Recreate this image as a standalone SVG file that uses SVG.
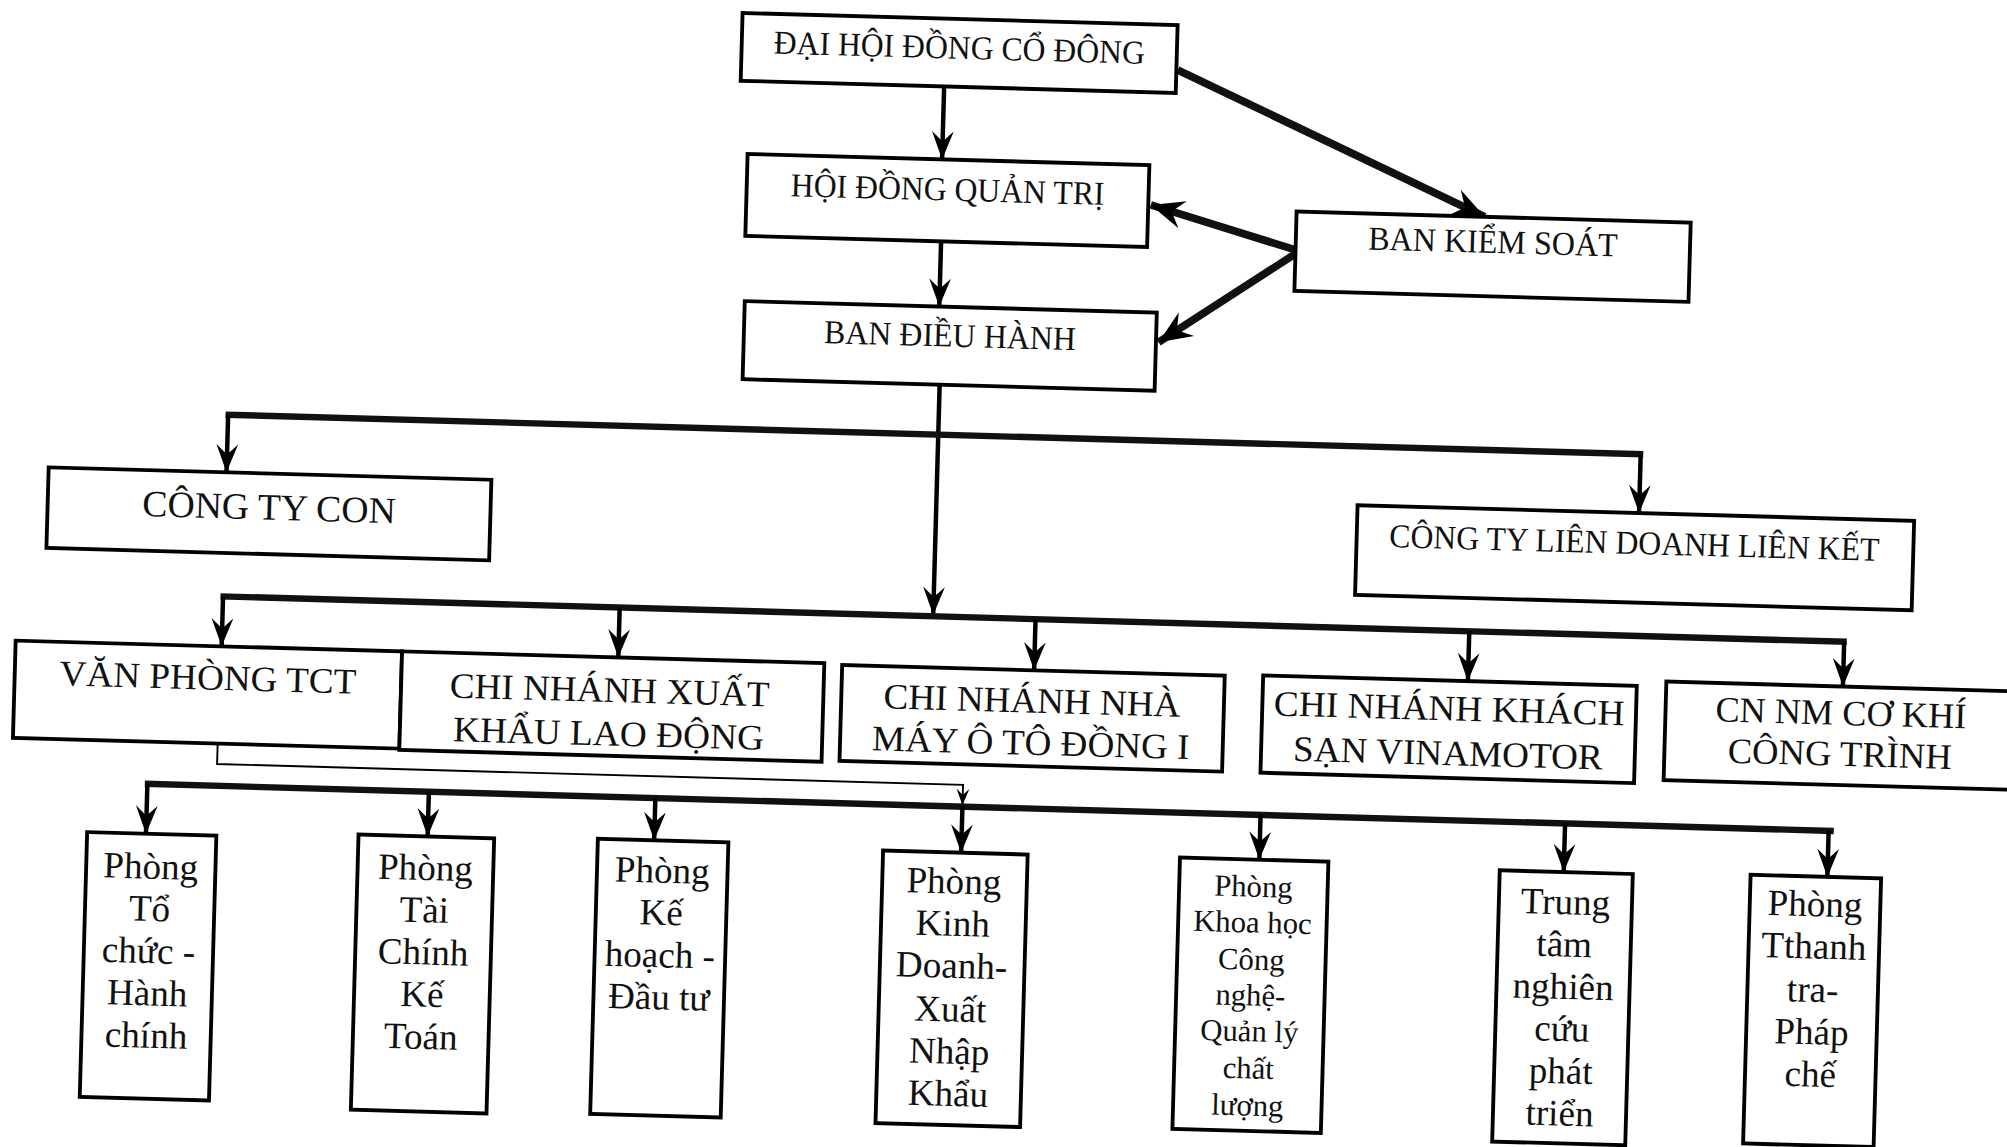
<svg xmlns="http://www.w3.org/2000/svg" width="2007" height="1147" viewBox="0 0 2007 1147">
<defs>
<style>
.box{fill:#fff;stroke:#000;stroke-width:3}
.t{font-family:"Liberation Serif","Times New Roman",serif;fill:#111;text-anchor:middle}
.h{font-size:26px}
.m{font-size:28px}
.b{font-size:29px}
.s{font-size:24px}
.ln{stroke:#000;stroke-width:3.5;fill:none}
.bar{stroke:#111;stroke-width:5;fill:none}
.dg{stroke:#111;stroke-width:6;fill:none}
.thin{stroke:#000;stroke-width:1.5;fill:none}
</style>
<marker id="arr" viewBox="-24 -10 26 20" markerUnits="userSpaceOnUse" markerWidth="26" markerHeight="20" refX="0" refY="0" orient="auto">
<path d="M0,0 L-22,-8.5 L-14,0 L-22,8.5 Z" fill="#000"/>
</marker>
<marker id="arrBig" viewBox="-28 -13 30 26" markerUnits="userSpaceOnUse" markerWidth="30" markerHeight="26" refX="0" refY="0" orient="auto">
<path d="M0,0 L-26,-11 L-17,0 L-26,11 Z" fill="#000"/>
</marker>
<marker id="arrSm" viewBox="-14 -7 16 14" markerUnits="userSpaceOnUse" markerWidth="16" markerHeight="14" refX="0" refY="0" orient="auto">
<path d="M0,0 L-13,-5 L-8,0 L-13,5 Z" fill="#000"/>
</marker>
</defs>
<rect width="2007" height="1147" fill="#fff"/>
<g transform="scale(1.28) rotate(1.6 784 448)">
<g id="connectors">
<line class="ln" x1="727" y1="69" x2="727" y2="126" marker-end="url(#arr)"/>
<line class="ln" x1="728" y1="190" x2="728" y2="241" marker-end="url(#arr)"/>
<line class="dg" x1="909" y1="51" x2="1152" y2="159" marker-end="url(#arrBig)"/>
<line class="dg" x1="1005" y1="189" x2="891" y2="157" marker-end="url(#arrBig)"/>
<line class="dg" x1="1005" y1="192" x2="900" y2="264" marker-end="url(#arrBig)"/>
<line class="ln" x1="730" y1="302" x2="730" y2="482" marker-end="url(#arr)"/>
<line class="bar" x1="173" y1="341" x2="1281" y2="341"/>
<line class="ln" x1="175" y1="341" x2="175" y2="386" marker-end="url(#arr)"/>
<line class="ln" x1="1279" y1="341" x2="1279" y2="387" marker-end="url(#arr)"/>
<line class="bar" x1="173" y1="483" x2="1444" y2="483"/>
<line class="ln" x1="175" y1="483" x2="175" y2="522" marker-end="url(#arr)"/>
<line class="ln" x1="485" y1="483" x2="485" y2="522" marker-end="url(#arr)"/>
<line class="ln" x1="810" y1="483" x2="810" y2="523" marker-end="url(#arr)"/>
<line class="ln" x1="1149" y1="483" x2="1149" y2="522" marker-end="url(#arr)"/>
<line class="ln" x1="1442" y1="483" x2="1442" y2="518" marker-end="url(#arr)"/>
<polyline class="thin" points="174,599 174,614 757,614 757,630" marker-end="url(#arrSm)"/>
<line class="bar" x1="118" y1="631" x2="1438" y2="631"/>
<line class="ln" x1="120" y1="631" x2="120" y2="670" marker-end="url(#arr)"/>
<line class="ln" x1="340" y1="631" x2="340" y2="666" marker-end="url(#arr)"/>
<line class="ln" x1="517" y1="631" x2="517" y2="664" marker-end="url(#arr)"/>
<line class="ln" x1="757" y1="631" x2="757" y2="667" marker-end="url(#arr)"/>
<line class="ln" x1="990" y1="631" x2="990" y2="666" marker-end="url(#arr)"/>
<line class="ln" x1="1228" y1="631" x2="1228" y2="669" marker-end="url(#arr)"/>
<line class="ln" x1="1434" y1="631" x2="1434" y2="667" marker-end="url(#arr)"/>
</g>
<g id="dai-hoi-dong-co-dong">
<rect class="box" x="568" y="16" width="340" height="53"/>
<text class="t h" x="738" y="47" textLength="290" lengthAdjust="spacingAndGlyphs">ĐẠI HỘI ĐỒNG CỔ ĐÔNG</text>
</g>
<g id="hoi-dong-quan-tri">
<rect class="box" x="575" y="126" width="314" height="64"/>
<text class="t h" x="732" y="158" textLength="245" lengthAdjust="spacingAndGlyphs">HỘI ĐỒNG QUẢN TRỊ</text>
</g>
<g id="ban-dieu-hanh">
<rect class="box" x="576" y="241" width="322" height="61"/>
<text class="t h" x="737" y="272" textLength="197" lengthAdjust="spacingAndGlyphs">BAN ĐIỀU HÀNH</text>
</g>
<g id="ban-kiem-soat">
<rect class="box" x="1005" y="159" width="308" height="62"/>
<text class="t h" x="1159" y="187" textLength="195" lengthAdjust="spacingAndGlyphs">BAN KIỂM SOÁT</text>
</g>
<g id="cong-ty-con">
<rect class="box" x="36" y="386" width="346" height="63"/>
<text class="t" style="font-size:29px" x="209" y="422" textLength="198" lengthAdjust="spacingAndGlyphs">CÔNG TY CON</text>
</g>
<g id="cong-ty-lien-doanh">
<rect class="box" x="1059" y="387" width="435" height="70"/>
<text class="t h" x="1276" y="419" textLength="383" lengthAdjust="spacingAndGlyphs">CÔNG TY LIÊN DOANH LIÊN KẾT</text>
</g>
<g id="van-phong-tct">
<rect class="box" x="14" y="522" width="302" height="76"/>
<text class="t m" x="165" y="556" textLength="232" lengthAdjust="spacingAndGlyphs">VĂN PHÒNG TCT</text>
</g>
<g id="chi-nhanh-xkld">
<rect class="box" x="316" y="522" width="330" height="77"/>
<text class="t m" x="479" y="557" textLength="250" lengthAdjust="spacingAndGlyphs">CHI NHÁNH XUẤT</text>
<text class="t m" x="479" y="591" textLength="243" lengthAdjust="spacingAndGlyphs">KHẨU LAO ĐỘNG</text>
</g>
<g id="chi-nhanh-nha-may">
<rect class="box" x="660" y="523" width="299" height="75"/>
<text class="t m" x="809" y="556" textLength="232" lengthAdjust="spacingAndGlyphs">CHI NHÁNH NHÀ</text>
<text class="t m" x="809" y="589" textLength="248" lengthAdjust="spacingAndGlyphs">MÁY Ô TÔ ĐỒNG I</text>
</g>
<g id="chi-nhanh-khach-san">
<rect class="box" x="989" y="522" width="292" height="76"/>
<text class="t m" x="1135" y="553" textLength="274" lengthAdjust="spacingAndGlyphs">CHI NHÁNH KHÁCH</text>
<text class="t m" x="1135" y="588" textLength="242" lengthAdjust="spacingAndGlyphs">SẠN VINAMOTOR</text>
</g>
<g id="cn-nm-co-khi">
<rect class="box" x="1304" y="518" width="280" height="77"/>
<text class="t m" x="1441" y="548" textLength="196" lengthAdjust="spacingAndGlyphs">CN NM CƠ KHÍ</text>
<text class="t m" x="1441" y="580" textLength="175" lengthAdjust="spacingAndGlyphs">CÔNG TRÌNH</text>
</g>
<g id="phong-to-chuc">
<rect class="box" x="74" y="670" width="101" height="207"/>
<text class="t b" x="124.5" y="705">Phòng</text>
<text class="t b" x="124.5" y="738">Tổ</text>
<text class="t b" x="124.5" y="771">chức -</text>
<text class="t b" x="124.5" y="804">Hành</text>
<text class="t b" x="124.5" y="837">chính</text>
</g>
<g id="phong-tai-chinh">
<rect class="box" x="286" y="666" width="106" height="215"/>
<text class="t b" x="339" y="700">Phòng</text>
<text class="t b" x="339" y="733">Tài</text>
<text class="t b" x="339" y="766">Chính</text>
<text class="t b" x="339" y="799">Kế</text>
<text class="t b" x="339" y="832">Toán</text>
</g>
<g id="phong-ke-hoach">
<rect class="box" x="473" y="664" width="102" height="215"/>
<text class="t b" x="524" y="697">Phòng</text>
<text class="t b" x="524" y="730">Kế</text>
<text class="t b" x="524" y="763">hoạch -</text>
<text class="t b" x="524" y="796">Đầu tư</text>
</g>
<g id="phong-kinh-doanh">
<rect class="box" x="696" y="667" width="113" height="213"/>
<text class="t b" x="752" y="699">Phòng</text>
<text class="t b" x="752" y="732">Kinh</text>
<text class="t b" x="752" y="765">Doanh-</text>
<text class="t b" x="752" y="799">Xuất</text>
<text class="t b" x="752" y="832">Nhập</text>
<text class="t b" x="752" y="865">Khẩu</text>
</g>
<g id="phong-khoa-hoc">
<rect class="box" x="928" y="666" width="116" height="212"/>
<text class="t s" x="986" y="695">Phòng</text>
<text class="t s" x="986" y="723">Khoa học</text>
<text class="t s" x="986" y="752">Công</text>
<text class="t s" x="986" y="780">nghệ-</text>
<text class="t s" x="986" y="808">Quản lý</text>
<text class="t s" x="986" y="837">chất</text>
<text class="t s" x="986" y="866">lượng</text>
</g>
<g id="trung-tam-nghien-cuu">
<rect class="box" x="1178" y="669" width="104" height="212"/>
<text class="t b" x="1230" y="702">Trung</text>
<text class="t b" x="1230" y="735">tâm</text>
<text class="t b" x="1230" y="768">nghiên</text>
<text class="t b" x="1230" y="801">cứu</text>
<text class="t b" x="1230" y="834">phát</text>
<text class="t b" x="1230" y="867">triển</text>
</g>
<g id="phong-thanh-tra">
<rect class="box" x="1374" y="667" width="102" height="210"/>
<text class="t b" x="1425" y="698">Phòng</text>
<text class="t b" x="1425" y="731">Tthanh</text>
<text class="t b" x="1425" y="765">tra-</text>
<text class="t b" x="1425" y="798">Pháp</text>
<text class="t b" x="1425" y="831">chế</text>
</g>
</g>
</svg>
